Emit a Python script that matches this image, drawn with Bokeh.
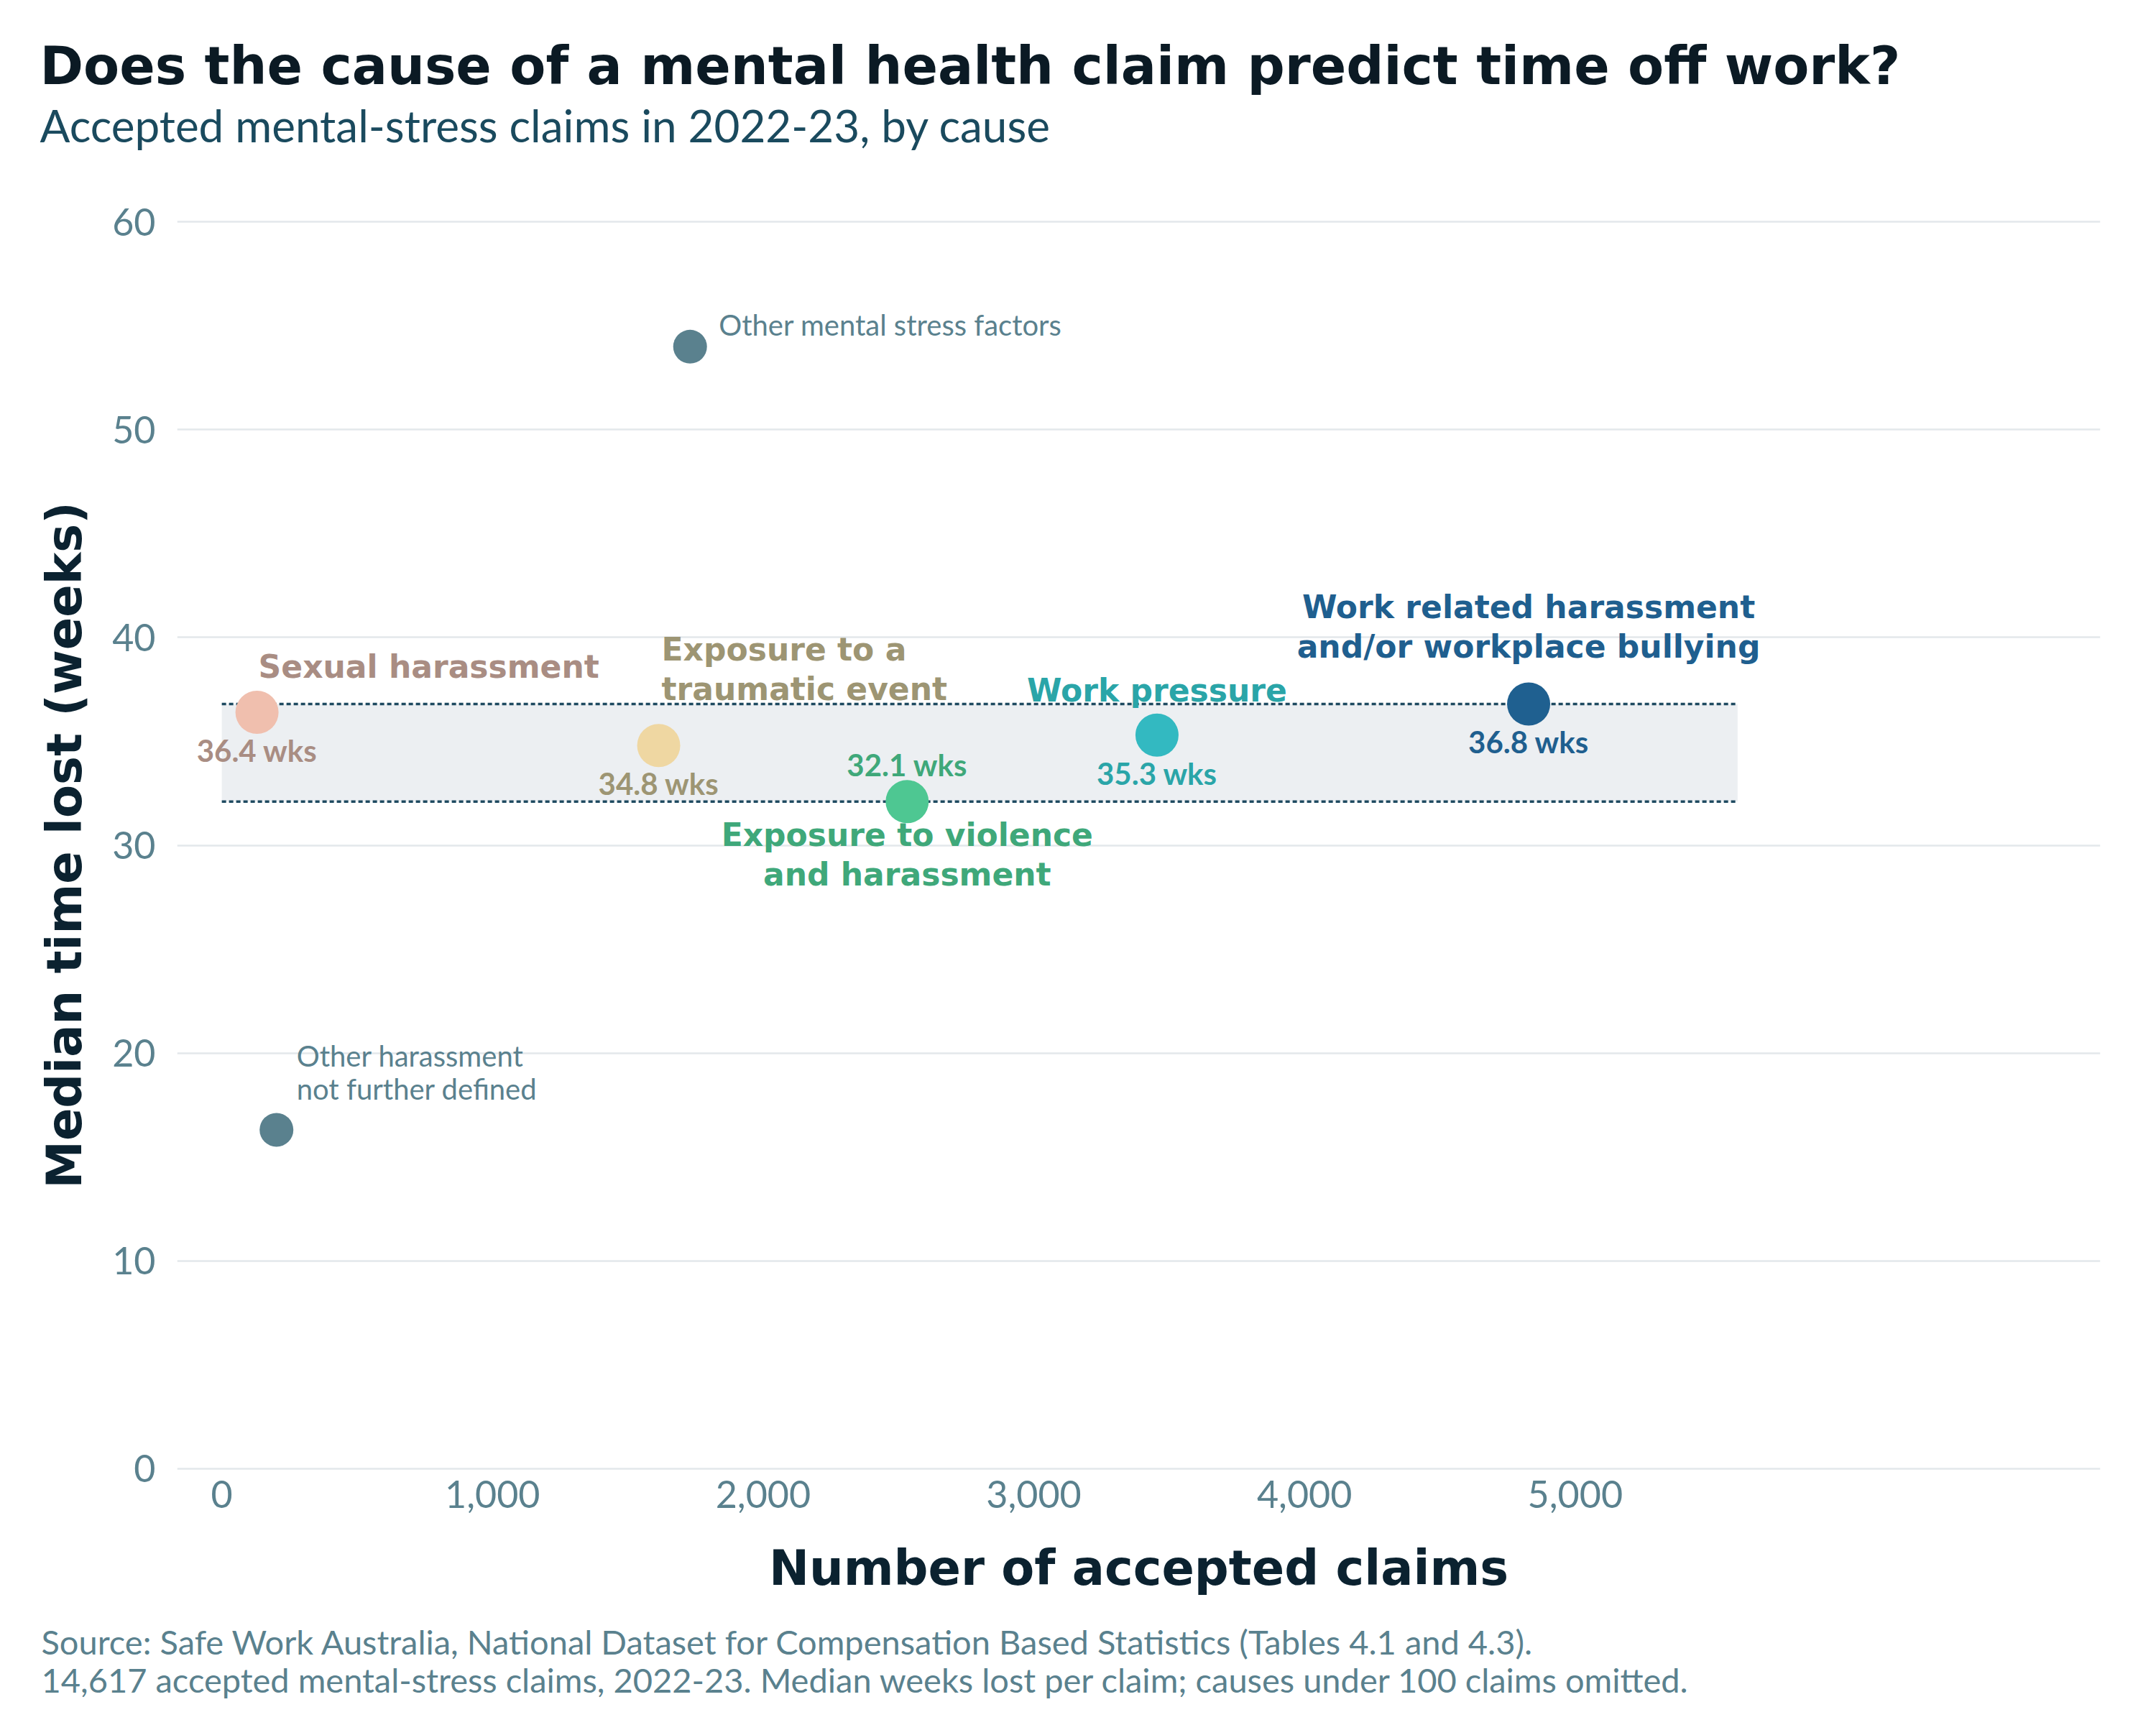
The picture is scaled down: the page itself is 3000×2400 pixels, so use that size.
import numpy as np
from bokeh.plotting import figure
from bokeh.models import Range1d, FixedTicker, NumeralTickFormatter, Title, ColumnDataSource
from bokeh.core.properties import value
from bokeh.embed import file_html
from bokeh.resources import INLINE

# ---------------- data ----------------
causes = [
    "Sexual harassment",
    "Exposure to a traumatic event",
    "Exposure to violence and harassment",
    "Work pressure",
    "Work related harassment and/or workplace bullying",
    "Other mental stress factors",
    "Other harassment not further defined",
]
display_names = [
    "Sexual harassment",
    "Exposure to a\ntraumatic event",
    "Exposure to violence\nand harassment",
    "Work pressure",
    "Work related harassment\nand/or workplace bullying",
    "Other mental stress factors",
    "Other harassment\nnot further defined",
]
claims = [130, 1614, 2532, 3455, 4828, 1730, 202]
weeks = [36.4, 34.8, 32.1, 35.3, 36.8, 54.0, 16.3]
is_main = [True, True, True, True, True, False, False]

x_ticks = [0, 1000, 2000, 3000, 4000, 5000]
y_ticks = [0, 10, 20, 30, 40, 50, 60]
band_x = [0, 5600]

# ---------------- styles ----------------
dot_colors = ["#F0BFAE", "#EFD7A2", "#4EC792", "#33B9C1", "#1F6090", "#5A818E", "#5A818E"]
label_colors = ["#A98D83", "#9D9573", "#3FA87A", "#2AA5A8", "#1F5F8F", "#5A818E", "#5A818E"]
label_align = ["left", "left", "center", "center", "center", "left", "left"]
label_dx = [2, 4, 0, 0, 0, 40, 28]
label_dy = [-64, -134, 46, -62, -135, -30, -103]   # baseline of first line, px (down +)
label_gap = [55, 55, 55, 55, 55, 46, 46]
value_dy = [53, 53, -51, 53, 53, 0, 0]

HEAD_FONT = "DejaVu Sans"
BODY_FONT = "Lato"
GREY = "#5A818E"
DARK = "#0B2230"

p = figure(
    width=2984, height=2384,
    frame_width=2676, frame_height=1763,
    x_range=Range1d(-165, 6940), y_range=Range1d(-0.5, 60.5),
    output_backend="svg", toolbar_location=None, title=None,
    min_border_left=246, min_border_right=62, min_border_top=294, min_border_bottom=327,
    background_fill_color="white", border_fill_color="white",
)
p.outline_line_color = None

# axes
p.xaxis.ticker = FixedTicker(ticks=x_ticks)
p.yaxis.ticker = FixedTicker(ticks=y_ticks)
p.xaxis.formatter = NumeralTickFormatter(format="0,0")
for ax in (p.xaxis[0], p.yaxis[0]):
    ax.axis_line_color = None
    ax.major_tick_line_color = None
    ax.minor_tick_line_color = None
    ax.major_tick_out = 0
    ax.major_tick_in = 0
    ax.minor_tick_out = 0
    ax.major_label_text_font = BODY_FONT
    ax.major_label_text_font_size = "52px"
    ax.major_label_text_color = GREY
    ax.axis_label_text_font = HEAD_FONT
    ax.axis_label_text_font_style = "bold"
    ax.axis_label_text_font_size = "67px"
    ax.axis_label_text_color = DARK
p.yaxis.major_label_standoff = 30
p.xaxis.major_label_standoff = 2
p.xaxis.axis_label = "Number of accepted claims"
p.yaxis.axis_label = "Median time lost (weeks)"
p.xaxis.axis_label_standoff = 42
p.yaxis.axis_label_standoff = 24

p.xgrid.grid_line_color = None
p.ygrid.grid_line_color = "#E3E8EB"
p.ygrid.grid_line_width = 2.5

# band of the five main causes
main_w = [w for w, m in zip(weeks, is_main) if m]
lo, hi = min(main_w), max(main_w)
p.quad(left=[band_x[0]], right=[band_x[1]], bottom=[lo], top=[hi],
       fill_color="#ECEFF2", line_color=None)
for yv in (lo, hi):
    p.line(x=band_x, y=[yv, yv], line_color="#1E4A60", line_width=3.5, line_dash="6 4")

# dots
src = ColumnDataSource(dict(
    x=claims, y=weeks, color=dot_colors,
    size=[60 if m else 47 for m in is_main],
))
p.scatter(x="x", y="y", size="size", fill_color="color", line_color=None, source=src)

# cause labels (one row per line)
rows = {}
for i, name in enumerate(display_names):
    key = (label_align[i], bool(is_main[i]))
    d = rows.setdefault(key, dict(x=[], y=[], text=[], xo=[], yo=[], color=[]))
    for j, line in enumerate(name.split("\n")):
        d["x"].append(claims[i]); d["y"].append(weeks[i]); d["text"].append(line)
        d["xo"].append(label_dx[i]); d["yo"].append(label_dy[i] + j * label_gap[i])
        d["color"].append(label_colors[i])
for (align, main), d in rows.items():
    p.text(x="x", y="y", text="text", x_offset="xo", y_offset="yo", text_color="color",
           source=ColumnDataSource(d), text_align=align, text_baseline="alphabetic",
           text_font=value(HEAD_FONT if main else BODY_FONT),
           text_font_style="bold" if main else "normal",
           text_font_size="44px" if main else "40px")

# value labels
vd = dict(x=[], y=[], text=[], yo=[], color=[])
for i in range(len(causes)):
    if is_main[i]:
        vd["x"].append(claims[i]); vd["y"].append(weeks[i])
        vd["text"].append(f"{weeks[i]:.1f} wks"); vd["yo"].append(value_dy[i])
        vd["color"].append(label_colors[i])
p.text(x="x", y="y", text="text", y_offset="yo", text_color="color",
       source=ColumnDataSource(vd), text_align="center", text_baseline="alphabetic",
       text_font=value(BODY_FONT), text_font_style="bold", text_font_size="42px")

# titles (above: first added is closest to the frame) and footer (below)
p.add_layout(Title(text="Accepted mental-stress claims in 2022-23, by cause", align="left",
                   offset=-191, standoff=168, text_font=BODY_FONT, text_font_size="62px",
                   text_font_style="normal", text_color="#1A4A5E"), "above")
p.add_layout(Title(text="Does the cause of a mental health claim predict time off work?", align="left",
                   offset=-191, standoff=-166, text_font=HEAD_FONT, text_font_size="73px",
                   text_font_style="bold", text_color="#0B1A24"), "above")
p.add_layout(Title(text="Source: Safe Work Australia, National Dataset for Compensation Based Statistics (Tables 4.1 and 4.3).",
                   align="left", offset=-189, standoff=61, text_font=BODY_FONT, text_font_size="47px",
                   text_font_style="normal", text_color=GREY), "below")
p.add_layout(Title(text="14,617 accepted mental-stress claims, 2022-23. Median weeks lost per claim; causes under 100 claims omitted.",
                   align="left", offset=-189, standoff=-67, vertical_align="top",
                   text_font=BODY_FONT, text_font_size="47px",
                   text_font_style="normal", text_color=GREY), "below")

open("out.html", "w").write(file_html(p, INLINE))
